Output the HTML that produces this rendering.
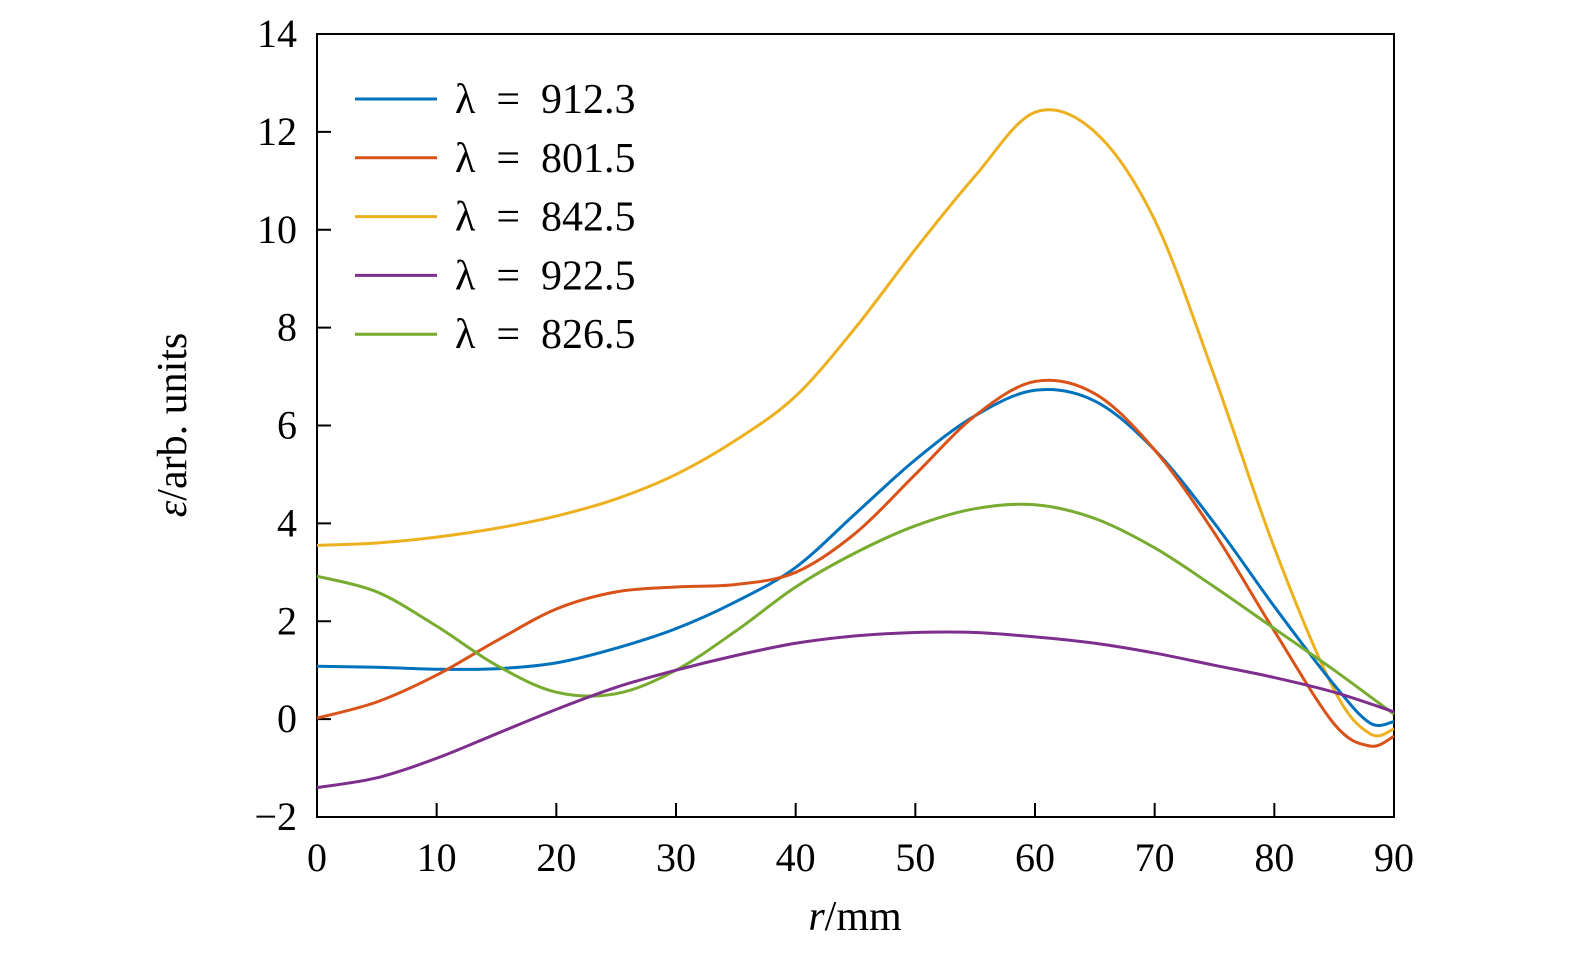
<!DOCTYPE html>
<html><head><meta charset="utf-8"><style>
body{margin:0;background:#fff}
svg text{font-family:"Liberation Serif",serif;fill:#000}
</style></head><body>
<svg id="chart" width="1575" height="955" xmlns="http://www.w3.org/2000/svg">
<rect x="317" y="34" width="1077" height="783" fill="none" stroke="#000" stroke-width="2"/>
<g id="ticks"></g><g id="series"></g><g id="legend"></g>
<text x="855" y="930" font-size="42" text-anchor="middle"><tspan font-style="italic">r</tspan>/mm</text>
<text transform="translate(186,425) rotate(-90)" font-size="42" text-anchor="middle"><tspan font-style="italic">ε</tspan>/arb. units</text>
</svg>
<script>
const xTicks=[0,10,20,30,40,50,60,70,80,90];
const yTicks=[-2,0,2,4,6,8,10,12,14];
const seriesNames=["λ  =  912.3","λ  =  801.5","λ  =  842.5","λ  =  922.5","λ  =  826.5"];
const seriesColors=["#0072bd","#d95319","#edb120","#7e2f8e","#77ac30"];
const xBlue=[0,5,10,15,20,25,30,35,40,45,50,55,60,65,70,75,80,85,88,90];
const yBlue=[1.08,1.06,1.02,1.03,1.15,1.45,1.85,2.4,3.1,4.2,5.3,6.2,6.72,6.5,5.5,4.0,2.3,0.7,-0.08,-0.05];
const xOrange=[0,5,10,15,20,25,30,35,40,45,50,55,60,65,70,75,80,85,88,90];
const yOrange=[0.02,0.35,0.9,1.6,2.25,2.6,2.7,2.75,3.0,3.8,5.0,6.2,6.9,6.65,5.5,3.8,1.8,-0.1,-0.55,-0.35];
const xYellow=[0,5,10,15,20,25,30,35,40,45,50,55,60,65,70,75,80,85,88,90];
const yYellow=[3.55,3.6,3.72,3.9,4.15,4.5,5.0,5.7,6.6,8.0,9.6,11.1,12.4,12.0,10.2,7.0,3.5,0.6,-0.3,-0.2];
const xPurple=[0,5,10,15,20,25,30,35,40,45,50,55,60,65,70,75,80,85,90];
const yPurple=[-1.4,-1.2,-0.8,-0.3,0.2,0.65,1.0,1.3,1.55,1.7,1.77,1.77,1.68,1.55,1.35,1.1,0.85,0.55,0.15];
const xGreen=[0,5,10,15,20,25,30,35,40,45,50,55,60,65,70,75,80,85,90];
const yGreen=[2.92,2.6,1.9,1.1,0.55,0.52,1.0,1.8,2.7,3.4,3.95,4.3,4.38,4.1,3.5,2.7,1.85,1.0,0.1];
const xs=[xBlue,xOrange,xYellow,xPurple,xGreen], ys=[yBlue,yOrange,yYellow,yPurple,yGreen];
const sx=v=>317+v*(1077/90), sy=v=>817-(v+2)*(783/16);
const NS="http://www.w3.org/2000/svg";
function mk(t,a,p){const e=document.createElementNS(NS,t);for(const k in a)e.setAttribute(k,a[k]);p.appendChild(e);return e;}
const tg=document.getElementById('ticks');
xTicks.forEach(v=>{const l=mk('line',{x1:sx(v),x2:sx(v),y1:817,y2:803,stroke:'#000','stroke-width':2},tg);

const t=mk('text',{x:sx(v),y:871,'font-size':40,'text-anchor':'middle'},tg);t.textContent=v;
});
yTicks.forEach(v=>{const l=mk('line',{x1:317,x2:331,y1:sy(v),y2:sy(v),stroke:'#000','stroke-width':2},tg);

const t=mk('text',{x:297,y:sy(v)+13,'font-size':40,'text-anchor':'end'},tg);t.textContent=v<0?'−'+(-v):v;
});
const sg=document.getElementById('series');
function path(X,Y){const P=X.map((x,i)=>[sx(x),sy(Y[i])]);let d='M'+P[0];
for(let i=0;i<P.length-1;i++){const p0=P[i-1]||P[i],p1=P[i],p2=P[i+1],p3=P[i+2]||p2;
const c1=[p1[0]+(p2[0]-p0[0])/6,p1[1]+(p2[1]-p0[1])/6],c2=[p2[0]-(p3[0]-p1[0])/6,p2[1]-(p3[1]-p1[1])/6];
d+=' C'+c1+' '+c2+' '+p2;}return d;}
const lg=document.getElementById('legend');
[2,0,1,4,3].forEach(i=>{const p=mk('path',{d:path(xs[i],ys[i]),fill:'none',stroke:seriesColors[i],'stroke-width':3},sg);
});
[0,1,2,3,4].forEach((i,k)=>{const y=99+k*58.8;
const l=mk('line',{x1:355,x2:437,y1:y,y2:y,stroke:seriesColors[i],'stroke-width':3},lg);

const t=mk('text',{x:455,y:y+14,'font-size':42},lg);t.textContent=seriesNames[i];
t.setAttribute('style','white-space:pre');
});
</script>
</body></html>
